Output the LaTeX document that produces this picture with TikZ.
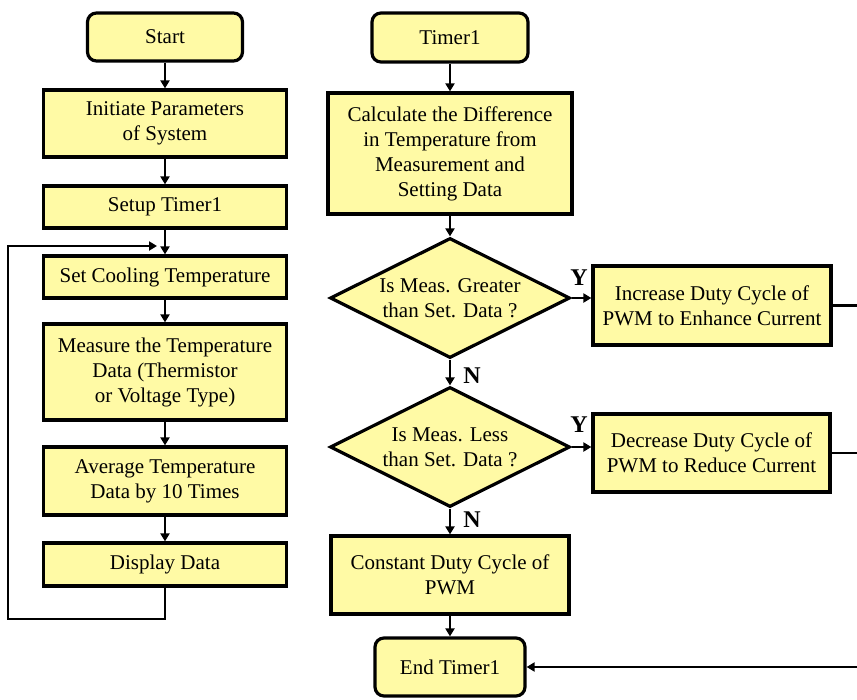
\documentclass[tikz,border=0pt]{standalone}
\usepackage{fontspec}
\setmainfont{Liberation Serif}
\usetikzlibrary{shapes.geometric,arrows.meta}
\definecolor{boxfill}{RGB}{255,250,165}
\begin{document}
\begin{tikzpicture}[x=1pt,y=-1pt,
  txt/.style={align=center, inner sep=0pt, font=\fontsize{21}{25}\selectfont},
  base/.style={txt, draw=black, line width=3.2pt, fill=boxfill},
  proc/.style={base, rectangle},
  term/.style={base, rounded corners=9pt},
  dec/.style={base, diamond},
  link/.style={line width=2.8pt},
  conn/.style={link, -{Triangle[length=8pt,width=9pt]}},
  yn/.style={font=\fontsize{24}{24}\selectfont\bfseries, inner sep=0pt}]
\useasboundingbox (0,0) rectangle (857,699);
\clip (0,0) rectangle (857,699);
% left column
\node[term, minimum width=155pt, minimum height=48pt] (start) at (165,37) {Start};
\node[proc, minimum width=243pt, minimum height=67pt] (init) at (165,123.5) {Initiate Parameters\\of System};
\node[proc, minimum width=243pt, minimum height=42pt] (setup) at (165,207) {Setup Timer1};
\node[proc, minimum width=243pt, minimum height=42pt] (setcool) at (165,277) {Set Cooling Temperature};
\node[proc, minimum width=243pt, minimum height=96pt] (meas) at (165,372) {Measure the Temperature\\Data (Thermistor\\or Voltage Type)};
\node[proc, minimum width=243pt, minimum height=68pt] (avg) at (165,481) {Average Temperature\\Data by 10 Times};
\node[proc, minimum width=243pt, minimum height=43pt] (disp) at (165,564.5) {Display Data};
% right column
\node[term, minimum width=156pt, minimum height=49pt] (t1) at (450,37.5) {Timer1};
\node[proc, minimum width=244pt, minimum height=121pt] (calc) at (450,153.5) {Calculate the Difference\\in Temperature from\\Measurement and\\Setting Data};
\node[dec, minimum width=240pt, minimum height=120pt] (d1) at (450,298) {};
\node[txt] (d1t) at (450,298) {Is Meas. Greater\\than Set. Data ?};
\node[proc, minimum width=238pt, minimum height=79pt] (inc) at (712,305.5) {Increase Duty Cycle of\\PWM to Enhance Current};
\node[dec, minimum width=240pt, minimum height=120pt] (d2) at (450,447) {};
\node[txt] (d2t) at (450,447) {Is Meas. Less\\than Set. Data ?};
\node[proc, minimum width=237pt, minimum height=78pt] (decr) at (711.5,453) {Decrease Duty Cycle of\\PWM to Reduce Current};
\node[proc, minimum width=238pt, minimum height=78pt] (const) at (450,575) {Constant Duty Cycle of\\PWM};
\node[term, minimum width=150pt, minimum height=58pt] (endt) at (450,667) {End Timer1};
% labels
\node[yn] (y1) at (579,278) {Y};
\node[yn] (y2) at (579,425) {Y};
\node[yn] (n1) at (472,376) {N};
\node[yn] (n2) at (472,520) {N};
% coordinates
\coordinate (lb) at (8,619);
\coordinate (lt) at (8,246);
\coordinate (lin) at (157,246);
\coordinate (rc) at (866,0);
% connectors left
\draw[conn] (start) -- (init);
\draw[conn] (init) -- (setup);
\draw[conn] (setup) -- (setcool);
\draw[conn] (setcool) -- (meas);
\draw[conn] (meas) -- (avg);
\draw[conn] (avg) -- (disp);
\draw[conn] (disp.south) |- (lb) -- (lt) -- (lin);
% connectors right
\draw[conn] (t1) -- (calc);
\draw[conn] (calc) -- (d1);
\draw[conn] (d1.east) -- (d1.east -| inc.west);
\draw[conn] (d1.south) -- (d2.north);
\draw[conn] (d2.east) -- (d2.east -| decr.west);
\draw[conn] (d2.south) -- (const.north);
\draw[conn] (const) -- (endt);
\draw[conn] (inc.east) -| (rc |- endt.east) -- (endt.east);
\draw[link] (decr.east) -- (decr.east -| rc);
\end{tikzpicture}
\end{document}
